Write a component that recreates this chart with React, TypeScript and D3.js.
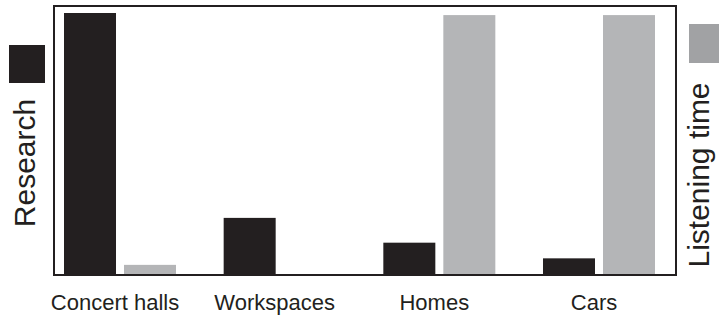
import React from 'react';
import * as d3 from 'd3';

const categories = ['Concert halls', 'Workspaces', 'Homes', 'Cars'];
const seriesNames = ['Research', 'Listening time'];
const research = [100, 21.5, 12, 6];
const listening = [3.5, 0, 99.2, 99.2];

const W = 719;
const H = 315;
const colors = ['#231f20', '#b4b5b7'];
const font = 'Liberation Sans, Arial, Helvetica, sans-serif';

const App = () => {
  // frame and plot area
  const frame = { x0: 54, y0: 6, x1: 676, y1: 275 };
  const baseY = 274;

  const x0 = d3.scaleBand().domain(categories).range([64, 655]).paddingInner(0.2985);
  const x1 = d3.scaleBand().domain(seriesNames).range([0, x0.bandwidth()]).paddingInner(8 / 60);
  const y = d3.scaleLinear().domain([0, 100]).range([baseY, 13]);

  const rows = categories.map((c, i) => ({ cat: c, vals: [research[i], listening[i]] }));

  return (
    <svg width={W} height={H} style={{ display: 'block', position: 'absolute', left: 0, top: 0 }}>
      <rect x={0} y={0} width={W} height={H} fill="#fff" />
      {rows.map((r) => (
        <g key={r.cat} transform={`translate(${x0(r.cat)},0)`}>
          {r.vals.map((v, j) => (
            <rect
              key={seriesNames[j]}
              x={x1(seriesNames[j])}
              y={y(v)}
              width={x1.bandwidth()}
              height={baseY - y(v)}
              fill={colors[j]}
            />
          ))}
        </g>
      ))}
      <rect
        x={frame.x0}
        y={frame.y0}
        width={frame.x1 - frame.x0}
        height={frame.y1 - frame.y0}
        fill="none"
        stroke="#231f20"
        strokeWidth={2}
      />
      {categories.map((c) => (
        <text
          key={c}
          x={(x0(c) as number) + x0.bandwidth() / 2 - 5}
          y={310}
          textAnchor="middle"
          fontFamily={font}
          fontSize={22}
          fill="#231f20"
        >
          {c}
        </text>
      ))}
      {/* left legend */}
      <rect x={9} y={45} width={36} height={38} fill={colors[0]} />
      <text
        transform="translate(35,163) rotate(-90)"
        textAnchor="middle"
        fontFamily={font}
        fontSize={30}
        fill="#231f20"
      >
        {seriesNames[0]}
      </text>
      {/* right legend */}
      <rect x={689} y={24} width={36} height={39} fill="#a1a2a4" />
      <text
        transform="translate(709,175) rotate(-90)"
        textAnchor="middle"
        fontFamily={font}
        fontSize={30}
        fill="#231f20"
      >
        {seriesNames[1]}
      </text>
    </svg>
  );
};

export default App;
